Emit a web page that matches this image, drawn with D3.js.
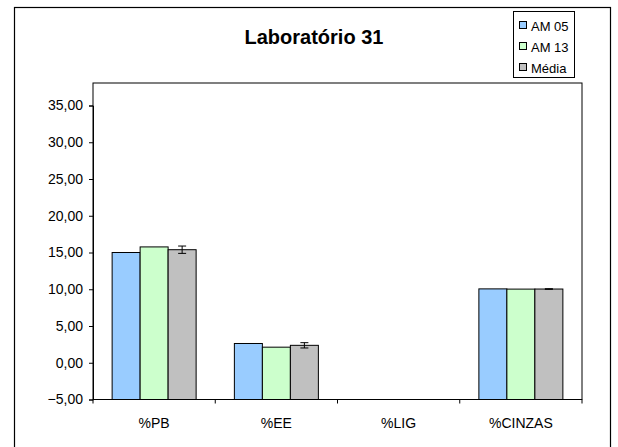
<!DOCTYPE html>
<html><head><meta charset="utf-8">
<script src="https://cdn.jsdelivr.net/npm/d3@7"></script>
<style>
html,body{margin:0;padding:0;background:#fff;}
svg{display:block;font-family:"Liberation Sans",Arial,sans-serif;}
</style></head>
<body>
<svg id="chart" width="618" height="447"></svg>
<script>
const categories = ["%PB", "%EE", "%LIG", "%CINZAS"];
const seriesNames = ["AM 05", "AM 13", "Média"];
const am05 = [15.0, 2.62, null, 10.05];
const am13 = [15.76, 2.12, null, 10.02];
const media = [15.38, 2.37, null, 10.03];
const mediaErr = [0.5, 0.36, null, 0.04];
const yTicks = [-5, 0, 5, 10, 15, 20, 25, 30, 35];
const colors = ["#99CCFF", "#CCFFCC", "#C0C0C0"];
const title = "Laboratório 31";

const svg = d3.select("#chart");
const plot = {left: 93, right: 582, top: 83, bottom: 399.5};

// outer frame
svg.append("rect").attr("x", 14.5).attr("y", 7.5).attr("width", 596).attr("height", 460)
  .attr("fill", "#fff").attr("stroke", "#000").attr("stroke-width", 1.2);

svg.append("text").attr("x", 314).attr("y", 44).attr("text-anchor", "middle")
  .attr("font-size", 20).attr("font-weight", "bold").text(title);

// plot area
svg.append("rect").attr("x", plot.left).attr("y", plot.top)
  .attr("width", plot.right - plot.left).attr("height", plot.bottom - plot.top)
  .attr("fill", "#fff").attr("stroke", "#000").attr("stroke-width", 1);

const y = d3.scaleLinear().domain([-5, 35]).range([plot.bottom, 105.5]);
const x = d3.scaleBand().domain(categories).range([plot.left, plot.right]).padding(0);
const barW = 28;

const fmt = v => d3.format(".2f")(v).replace(".", ",");

// y axis
const yAxis = d3.axisLeft(y).tickValues(yTicks).tickSize(4).tickPadding(6).tickFormat(fmt);
const ga = svg.append("g").attr("transform", `translate(${plot.left},0)`).call(yAxis);
ga.select(".domain").attr("stroke", "#000");
ga.selectAll(".tick line").attr("stroke", "#000");
ga.selectAll("text").attr("font-size", 14).attr("fill", "#000")
  .style("font-family", "'Liberation Sans', Arial, sans-serif");

// x axis line and ticks at category boundaries
const xb = svg.append("g");
xb.append("line").attr("x1", plot.left).attr("x2", plot.right)
  .attr("y1", plot.bottom).attr("y2", plot.bottom).attr("stroke", "#000");
const bounds = categories.map(c => x(c)).concat([plot.right]);
xb.selectAll("line.t").data(bounds).enter().append("line").attr("class", "t")
  .attr("x1", d => d).attr("x2", d => d).attr("y1", plot.bottom).attr("y2", plot.bottom + 4)
  .attr("stroke", "#000");
xb.selectAll("text").data(categories).enter().append("text")
  .attr("x", d => x(d) + x.bandwidth() / 2).attr("y", 428)
  .attr("text-anchor", "middle").attr("font-size", 14).text(d => d);

// bars
const series = [am05, am13, media];
series.forEach((vals, si) => {
  svg.append("g").selectAll("rect").data(categories.map((c, i) => ({c, v: vals[i]})).filter(d => d.v != null))
    .enter().append("rect")
    .attr("x", d => x(d.c) + x.bandwidth() / 2 - 1.5 * barW + si * barW)
    .attr("width", barW)
    .attr("y", d => y(d.v))
    .attr("height", d => y(-5) - y(d.v))
    .attr("fill", colors[si]).attr("stroke", "#000").attr("stroke-width", 1);
});

// error bars on Média
const eb = categories.map((c, i) => ({c, v: media[i], e: mediaErr[i]})).filter(d => d.v != null);
const eg = svg.append("g").attr("stroke", "#000").attr("stroke-width", 1);
eb.forEach(d => {
  const cx = x(d.c) + x.bandwidth() / 2 + barW;
  eg.append("line").attr("x1", cx).attr("x2", cx).attr("y1", y(d.v + d.e)).attr("y2", y(d.v - d.e));
  eg.append("line").attr("x1", cx - 4).attr("x2", cx + 4).attr("y1", y(d.v + d.e)).attr("y2", y(d.v + d.e));
  eg.append("line").attr("x1", cx - 4).attr("x2", cx + 4).attr("y1", y(d.v - d.e)).attr("y2", y(d.v - d.e));
});

// legend
const lg = svg.append("g");
lg.append("rect").attr("x", 513.5).attr("y", 11.5).attr("width", 61).attr("height", 66)
  .attr("fill", "#fff").attr("stroke", "#000").attr("stroke-width", 1);
seriesNames.forEach((n, i) => {
  const cy = 26 + i * 21;
  lg.append("rect").attr("x", 519.5).attr("y", cy - 4.5).attr("width", 7).attr("height", 7)
    .attr("fill", colors[i]).attr("stroke", "#000").attr("stroke-width", 1);
  lg.append("text").attr("x", 531).attr("y", cy + 4.5).attr("font-size", 13).text(n);
});
</script>
</body></html>
